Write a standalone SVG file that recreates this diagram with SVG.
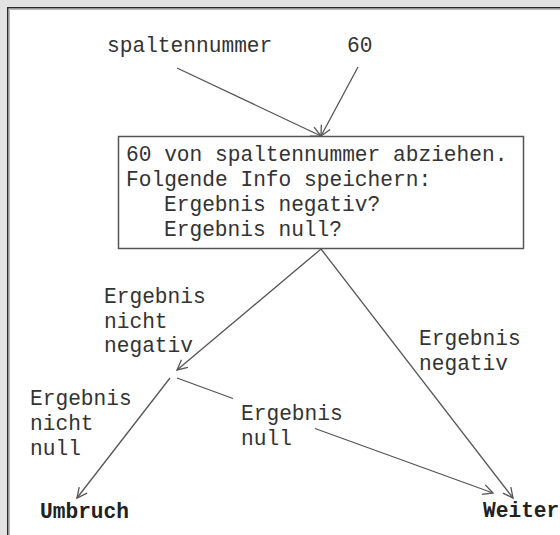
<svg xmlns="http://www.w3.org/2000/svg" width="560" height="535" viewBox="0 0 560 535">
<style>
  text { font-family: "Liberation Mono", "DejaVu Sans Mono", monospace; font-size: 21.2px; fill: #333; }
  .b { font-weight: bold; fill: #222; }
  .c { fill: none; stroke: #555; stroke-width: 1.3; }
  .box { fill: #fff; stroke: #555; stroke-width: 1.5; }
</style>
<defs>
  <marker id="ah" markerUnits="userSpaceOnUse" markerWidth="14" markerHeight="14" refX="11" refY="6" orient="auto" viewBox="0 0 14 12">
    <path d="M1,1 L11,6 L1,11" fill="none" stroke="#555" stroke-width="1.3"/>
  </marker>
</defs>
<rect x="0" y="0" width="560" height="535" fill="#e2e2e2"/>
<rect x="8" y="8" width="552" height="527" fill="#fff"/>
<path d="M9.5,535 V9.5 H560" fill="none" stroke="#bbb" stroke-width="1"/>
<path d="M7.75,535 V7.75 H560" fill="none" stroke="#2a2a2a" stroke-width="1.5"/>

<g id="connectors">
  <line class="c" x1="177" y1="68" x2="321" y2="136" marker-end="url(#ah)"/>
  <line class="c" x1="358" y1="67" x2="321" y2="136" marker-end="url(#ah)"/>
  <line class="c" x1="321" y1="249" x2="177" y2="370" marker-end="url(#ah)"/>
  <line class="c" x1="321" y1="249" x2="513" y2="498" marker-end="url(#ah)"/>
  <line class="c" x1="170" y1="378" x2="77" y2="498" marker-end="url(#ah)"/>
  <line class="c" x1="177" y1="378" x2="233" y2="398.5"/>
  <line class="c" x1="315" y1="428.5" x2="493" y2="493" marker-end="url(#ah)"/>
</g>

<g id="in-spaltennummer"><text x="107" y="52">spaltennummer</text></g>
<g id="in-60"><text x="347" y="52">60</text></g>

<g id="process">
  <rect class="box" x="118.5" y="136.5" width="405" height="112"/>
  <text x="126" y="161">60 von spaltennummer abziehen.</text>
  <text x="126" y="186">Folgende Info speichern:</text>
  <text x="164" y="211">Ergebnis negativ?</text>
  <text x="164" y="236">Ergebnis null?</text>
</g>

<g id="label-nicht-negativ">
  <text x="104" y="303">Ergebnis</text>
  <text x="104" y="328">nicht</text>
  <text x="104" y="352">negativ</text>
</g>
<g id="label-negativ">
  <text x="419" y="345">Ergebnis</text>
  <text x="419" y="370">negativ</text>
</g>
<g id="label-nicht-null">
  <text x="30" y="405">Ergebnis</text>
  <text x="30" y="430">nicht</text>
  <text x="30" y="455">null</text>
</g>
<g id="label-null">
  <text x="241" y="420">Ergebnis</text>
  <text x="241" y="445">null</text>
</g>
<g id="umbruch"><text class="b" x="40" y="518">Umbruch</text></g>
<g id="weiter"><text class="b" x="483" y="517">Weiter</text></g>
</svg>
